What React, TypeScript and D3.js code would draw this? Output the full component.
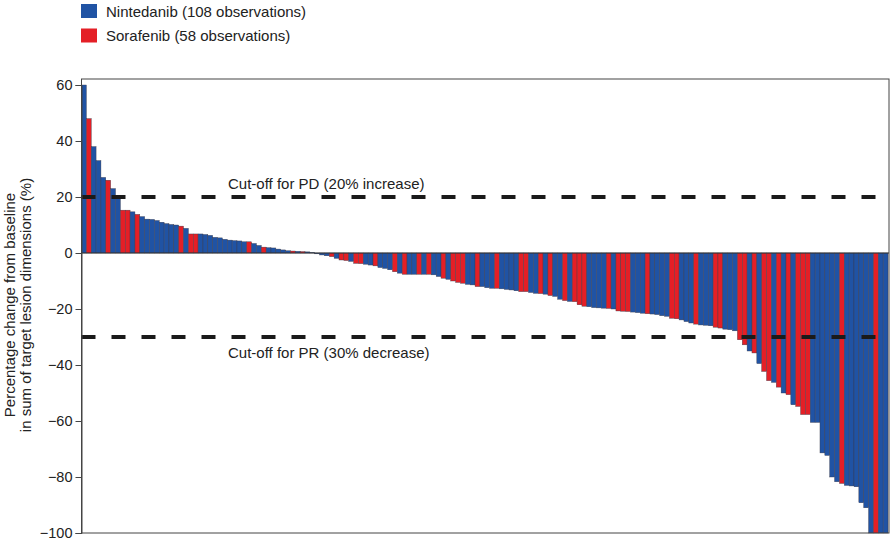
import React, { useEffect, useRef } from 'react';
import * as d3 from 'd3';

// N = Nintedanib, S = Sorafenib, read left to right off the waterfall
const arms = [
  'N', 'S', 'N', 'N', 'N', 'S', 'N', 'N', 'S', 'S', 'N', 'S', 'N', 'N', 'N', 'N', 'N', 'N', 'N', 'N', 'S',
  'N', 'S', 'S', 'N', 'N', 'N', 'N', 'N', 'N', 'N', 'N', 'N', 'N', 'S', 'N', 'N', 'S', 'N', 'N', 'N', 'N', 'N',
  'S', 'N', 'S', 'N', 'N', 'N', 'N', 'N', 'S', 'N', 'S', 'S', 'N', 'S', 'S', 'N', 'N', 'S', 'N', 'N',
  'N', 'S', 'N', 'S', 'N', 'N', 'S', 'N', 'S', 'N', 'N', 'S', 'N', 'S', 'S', 'S', 'N', 'N', 'S', 'N', 'N',
  'N', 'S', 'N', 'N', 'N', 'N', 'S', 'S', 'N', 'N', 'S', 'N', 'S', 'N', 'N', 'S', 'N', 'S', 'S', 'S',
  'N', 'N', 'N', 'N', 'S', 'N', 'S', 'S', 'S', 'N', 'N', 'N', 'S', 'N', 'N', 'N', 'N', 'S', 'S', 'N', 'N',
  'N', 'S', 'N', 'N', 'N', 'S', 'S', 'N', 'N', 'N', 'S', 'S', 'N', 'S', 'N', 'S', 'S', 'N', 'S', 'N',
  'S', 'N', 'S', 'S', 'S', 'N', 'N', 'N', 'N', 'N', 'N', 'S', 'N', 'N', 'N', 'N', 'N', 'N', 'S', 'N', 'N',
];

const changes = [
  60, 48, 38, 33, 27, 26, 23, 20, 15.3, 15.3, 14.7, 13.8, 13, 12.1, 12, 11.6, 11, 10.5, 10.2, 10, 9.6,
  8.8, 6.8, 6.8, 6.8, 6.6, 6.3, 5.6, 5.4, 4.9, 4.6, 4.4, 4.3, 4.0, 4.0, 3.4, 2.7, 2.1, 1.9, 1.8, 1.4, 1.1, 0.8,
  0.7, 0.6, 0.5, 0.4, 0.2, -0.3, -0.7, -1, -1.3, -1.9, -2.5, -2.7, -3, -3.7, -3.8, -4, -4.3, -4.6, -5.2, -5.5,
  -6, -6.7, -7.2, -7.6, -7.6, -7.6, -7.6, -7.6, -7.6, -7.8, -8.4, -9, -9.4, -10, -10.5, -10.8, -11.2, -11.4, -12, -12, -12.4,
  -12.6, -12.6, -12.8, -13, -13.2, -13.5, -13.8, -13.8, -14.1, -14.4, -14.5, -14.7, -15.2, -15.5, -16.5, -17, -17.3, -17.4, -18.5, -19,
  -19.2, -19.5, -19.6, -19.7, -19.8, -20, -20.7, -20.8, -20.9, -21.1, -21.3, -21.5, -21.7, -21.8, -22, -22.4, -22.6, -23.3, -23.5, -23.9, -24.5,
  -25, -25.4, -25.7, -25.8, -26, -26.5, -26.8, -27.2, -27.4, -27.8, -31, -32.8, -35, -35.7, -39.5, -42.3, -45.6, -46.2, -47.9, -50,
  -50.6, -54.2, -54.8, -57.7, -57.7, -60.5, -60.5, -71.4, -72.3, -80, -81.7, -82.3, -83, -83.2, -83.5, -89.2, -91, -100, -100, -100, -100,
];

const yTicks = [60, 40, 20, 0, -20, -40, -60, -80, -100];
const cutoffs = [
  { value: 20, label: 'Cut-off for PD (20% increase)' },
  { value: -30, label: 'Cut-off for PR (30% decrease)' },
];
const legendItems = [
  { arm: 'N', label: 'Nintedanib (108 observations)' },
  { arm: 'S', label: 'Sorafenib (58 observations)' },
];

const colors = { N: '#2053a4', S: '#e41f26' };
const font = '"Liberation Sans", Arial, sans-serif';

export default function App() {
  const svgRef = useRef(null);
  const width = 891;
  const height = 541;
  const margin = { top: 79, right: 2, bottom: 8, left: 81.5 };

  useEffect(() => {
    const svg = d3.select(svgRef.current);
    svg.selectAll('*').remove();

    const x = d3
      .scaleBand()
      .domain(changes.map((_, i) => String(i)))
      .range([margin.left, 888])
      .paddingInner(0);

    const y = d3.scaleLinear().domain([-100, 60]).range([533, 85]);

    // bars
    svg
      .append('g')
      .selectAll('rect')
      .data(changes)
      .enter()
      .append('rect')
      .attr('x', (_, i) => x(String(i)))
      .attr('y', (d) => Math.min(y(d), y(0)))
      .attr('width', x.bandwidth())
      .attr('height', (d) => Math.abs(y(d) - y(0)))
      .attr('fill', (_, i) => colors[arms[i]])
      .attr('stroke', '#3b3b4a')
      .attr('stroke-width', 0.4);

    // frame
    svg
      .append('rect')
      .attr('x', margin.left)
      .attr('y', margin.top)
      .attr('width', width - margin.right - margin.left)
      .attr('height', 533 - margin.top)
      .attr('fill', 'none')
      .attr('stroke', '#444')
      .attr('stroke-width', 1);

    // zero line
    svg
      .append('line')
      .attr('x1', margin.left)
      .attr('x2', width - margin.right)
      .attr('y1', y(0))
      .attr('y2', y(0))
      .attr('stroke', '#333')
      .attr('stroke-width', 1);

    // cut-off lines
    const cut = svg.append('g');
    cut
      .selectAll('line')
      .data(cutoffs)
      .enter()
      .append('line')
      .attr('x1', margin.left)
      .attr('x2', width - margin.right)
      .attr('y1', (d) => y(d.value))
      .attr('y2', (d) => y(d.value))
      .attr('stroke', '#1a1a1a')
      .attr('stroke-width', 4)
      .attr('stroke-dasharray', '14 16');
    cut
      .selectAll('text')
      .data(cutoffs)
      .enter()
      .append('text')
      .attr('x', 228)
      .attr('y', (d) => (d.value > 0 ? y(d.value) - 8 : y(d.value) + 21))
      .attr('font-family', font)
      .attr('font-size', 15)
      .attr('fill', '#222')
      .text((d) => d.label);

    // y axis
    const axis = svg
      .append('g')
      .attr('transform', `translate(${margin.left},0)`)
      .call(
        d3
          .axisLeft(y)
          .tickValues(yTicks)
          .tickSize(6)
          .tickPadding(3)
          .tickFormat((d) => (d < 0 ? '\u2212' + Math.abs(d) : String(d)))
      );
    axis.select('.domain').attr('stroke', '#444');
    axis.selectAll('line').attr('stroke', '#444');
    axis
      .selectAll('text')
      .attr('font-family', font)
      .attr('font-size', 14.5)
      .attr('fill', '#222');

    // y axis title
    const title = svg
      .append('text')
      .attr('transform', 'translate(0,305) rotate(-90)')
      .attr('text-anchor', 'middle')
      .attr('font-family', font)
      .attr('font-size', 15)
      .attr('fill', '#222');
    title.append('tspan').attr('x', 0).attr('y', 15).text('Percentage change from baseline');
    title.append('tspan').attr('x', 0).attr('y', 31).text('in sum of target lesion dimensions (%)');

    // legend
    const legend = svg
      .append('g')
      .selectAll('g')
      .data(legendItems)
      .enter()
      .append('g')
      .attr('transform', (_, i) => `translate(81,${4 + i * 24.5})`);
    legend
      .append('rect')
      .attr('width', 16)
      .attr('height', 14)
      .attr('fill', (d) => colors[d.arm]);
    legend
      .append('text')
      .attr('x', 25)
      .attr('y', 12.5)
      .attr('font-family', font)
      .attr('font-size', 15)
      .attr('fill', '#222')
      .text((d) => d.label);
  }, []);

  return (
    <svg
      ref={svgRef}
      width={width}
      height={height}
      style={{ position: 'absolute', left: 0, top: 0, background: '#fff' }}
    />
  );
}
